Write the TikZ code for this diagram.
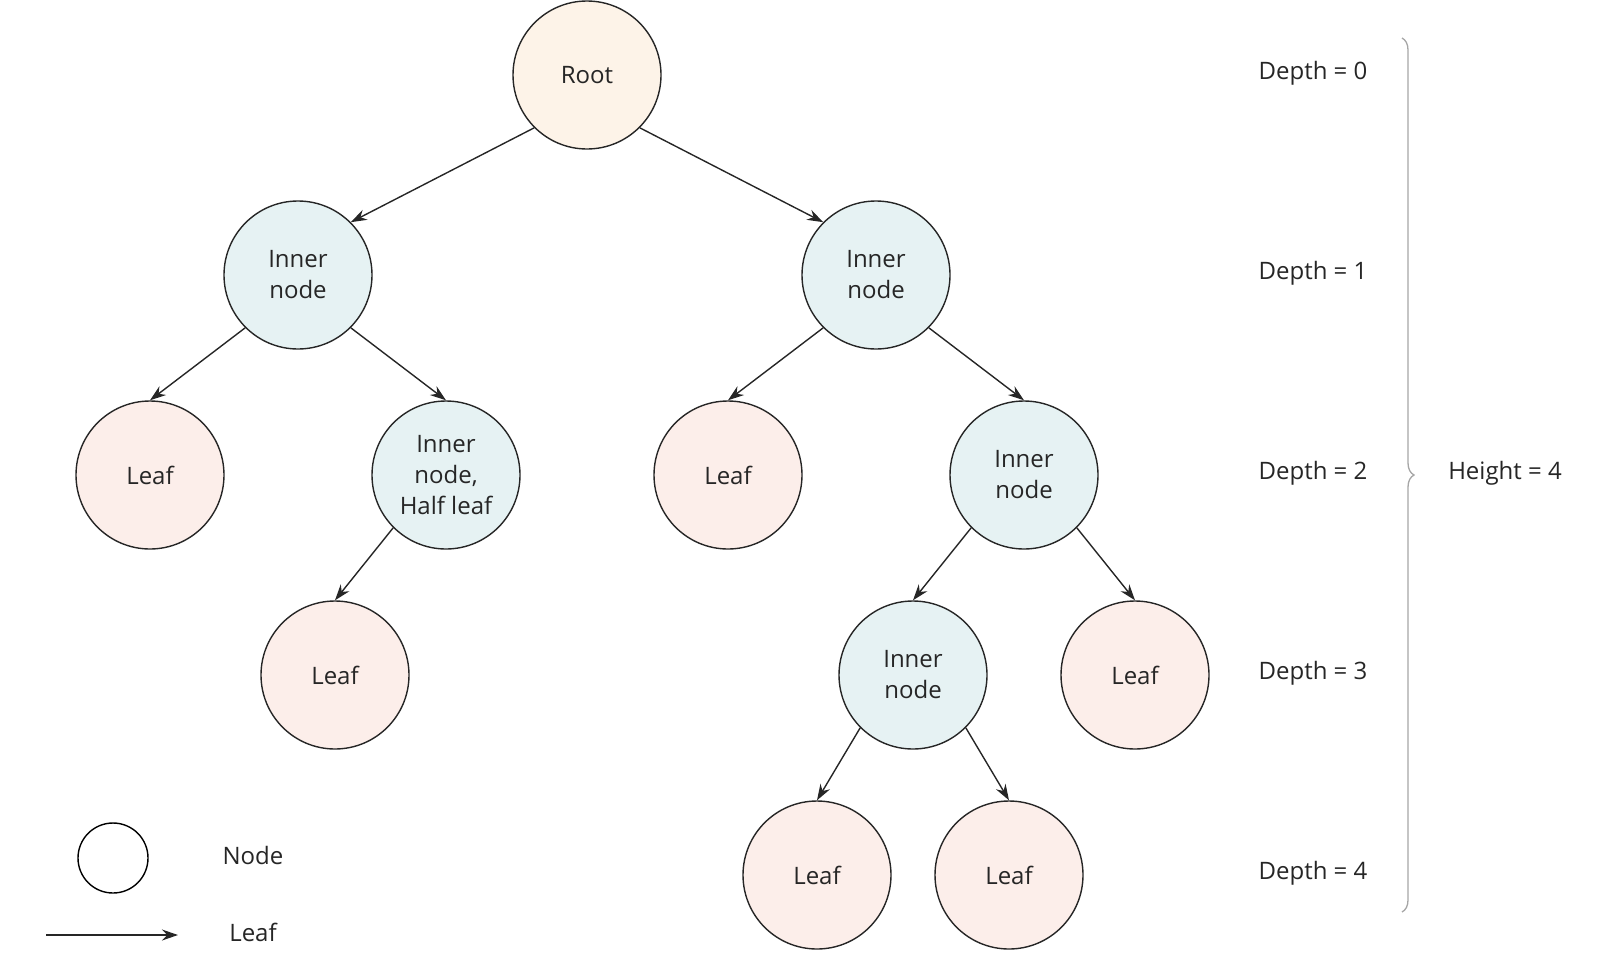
\documentclass[tikz,border=0pt]{standalone}
\usepackage{fontspec}
\setmainfont{Open Sans}
\usetikzlibrary{arrows.meta,decorations.pathreplacing}
\definecolor{rootc}{HTML}{FDF3E8}
\definecolor{innerc}{HTML}{E6F2F3}
\definecolor{leafc}{HTML}{FCEEEA}
\begin{document}
\begin{tikzpicture}[x=1pt,y=-1pt,
 every node/.style={font=\fontsize{24}{31}\selectfont, text=black!85},
 nd/.style={circle,draw=black!85,line width=1.4pt,minimum size=148pt,inner sep=0pt,align=center},
 root/.style={nd,fill=rootc}, inner/.style={nd,fill=innerc}, leaf/.style={nd,fill=leafc},
 ar/.style={-{Stealth[length=16pt,width=11pt]},line width=1.4pt,black!85},
 lab/.style={anchor=center}]
\node[root] (r) at (587,75) {Root};
\node[inner] (a) at (298,275) {Inner\\node};
\node[inner] (b) at (876,275) {Inner\\node};
\node[leaf] (c) at (150,475) {Leaf};
\node[inner] (d) at (446,475) {Inner\\node,\\Half leaf};
\node[leaf] (e) at (728,475) {Leaf};
\node[inner] (f) at (1024,475) {Inner\\node};
\node[leaf] (g) at (335,675) {Leaf};
\node[inner] (h) at (913,675) {Inner\\node};
\node[leaf] (i) at (1135,675) {Leaf};
\node[leaf] (j) at (817,875) {Leaf};
\node[leaf] (k) at (1009,875) {Leaf};
\draw[ar] (r.south west) -- (a.north east);
\draw[ar] (r.south east) -- (b.north west);
\foreach \u/\v in {a/c,b/e,d/g,f/h,h/j} \draw[ar] (\u.south west) -- (\v.north);
\foreach \u/\v in {a/d,b/f,f/i,h/k} \draw[ar] (\u.south east) -- (\v.north);
\foreach \t/\y in {0/73,1/273,2/473,3/673,4/873} \node[lab] (dp\t) at (1313,\y) {Depth = \t};
\draw[gray!70,line width=1.3pt,decorate,decoration={brace,amplitude=12pt,aspect=0.5}] (1402,38) -- (1402,912);
\node[lab] (ht) at (1505,473) {Height = 4};
\node[circle,draw=black,fill=white,line width=1.4pt,minimum size=70pt,inner sep=0pt] (ln) at (113,858) {};
\node[lab] (lnt) at (253,855) {Node};
\coordinate (l1) at (46,935); \coordinate (l2) at (178,935);
\draw[ar] (l1) -- (l2);
\node[lab] (llt) at (253,932) {Leaf};
\pgfresetboundingbox
\useasboundingbox (0,0) rectangle (1600,972);
\end{tikzpicture}
\end{document}
